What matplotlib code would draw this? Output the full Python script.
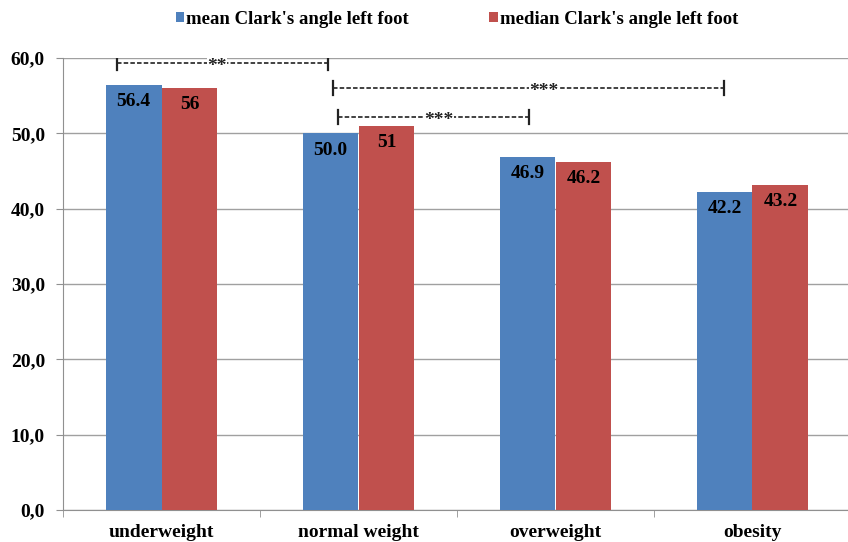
import matplotlib
matplotlib.use('Agg')
import matplotlib.pyplot as plt
import numpy as np

# Data
categories = ['underweight', 'normal weight', 'overweight', 'obesity']
mean_angle = [56.4, 50.0, 46.9, 42.2]
median_angle = [56, 51, 46.2, 43.2]
mean_labels = ['56.4', '50.0', '46.9', '42.2']
median_labels = ['56', '51', '46.2', '43.2']
series_names = ["mean Clark's angle left foot", "median Clark's angle left foot"]

# Significance brackets: (x start, x end, y, stars, star x)
brackets = [(-0.226, 0.845, 59.4, '**', 0.28),
            (0.87, 2.855, 56.0, '***', 1.94),
            (0.896, 1.865, 52.2, '***', 1.41)]

blue = '#4F81BD'
red = '#C0504D'
plt.rcParams['font.family'] = ['Liberation Serif', 'DejaVu Serif']
plt.rcParams['font.weight'] = 'bold'

fig = plt.figure(figsize=(8.48, 5.42), dpi=100)
ax = fig.add_axes([63 / 848, 32 / 542, 788 / 848, 452 / 542])

x = np.arange(len(categories))
w = 0.284
b1 = ax.bar(x - w / 2, mean_angle, w, color=blue, linewidth=0, label=series_names[0], zorder=3)
b2 = ax.bar(x + w / 2, median_angle, w, color=red, linewidth=0, label=series_names[1], zorder=3)

# Value labels inside the top of the bars
for bars, labels in [(b1, mean_labels), (b2, median_labels)]:
    for rect, lab in zip(bars, labels):
        ax.annotate(lab, (rect.get_x() + rect.get_width() / 2, rect.get_height()),
                    xytext=(0, -6), textcoords='offset points', ha='center', va='top',
                    fontsize=14, fontweight='bold', color='black', zorder=5)

# Axes settings
ax.set_xlim(-0.5, 3.5)
ax.set_ylim(0, 60)
ax.set_yticks(np.arange(0, 61, 10))
ax.set_yticklabels([f'{v:.1f}'.replace('.', ',') for v in np.arange(0, 61, 10)],
                   fontsize=14, fontweight='bold')
ax.yaxis.grid(True, color='#a0a0a0', linewidth=1, zorder=0)
ax.set_axisbelow(True)
ax.set_xticks(x)
ax.set_xticklabels(categories, fontsize=14, fontweight='bold')
ax.tick_params(axis='x', length=0, pad=10)
ax.set_xticks(np.arange(-0.5, 4, 1), minor=True)
ax.tick_params(axis='x', which='minor', length=5, color='#909090')
ax.tick_params(axis='y', length=5, color='#909090', pad=8)

for s in ['top', 'right']:
    ax.spines[s].set_visible(False)
ax.spines['left'].set_color('#909090')
ax.spines['bottom'].set_color('#909090')

# Significance brackets
for x0, x1, y, stars, xs in brackets:
    ax.plot([x0, x1], [y, y], color='#333333', linewidth=1.3, dashes=(2.5, 1.2), zorder=4)
    ax.plot([x0, x0], [y - 0.95, y + 0.95], color='#222222', linewidth=1.6, zorder=4)
    ax.plot([x1, x1], [y - 0.95, y + 0.95], color='#222222', linewidth=1.6, zorder=4)
    ax.text(xs, y - 0.5, stars, ha='center', va='center', fontsize=14, fontweight='bold',
            color='#222222', zorder=5,
            bbox=dict(facecolor='white', edgecolor='none', pad=0.2))

# Legend
fig.legend(handles=[b1, b2], loc='center', bbox_to_anchor=(457 / 848, 1 - 19 / 542), ncol=2,
           frameon=False, handlelength=0.45, handleheight=0.45,
           handletextpad=0.1, columnspacing=4.3, prop={'weight': 'bold', 'size': 13.5})

fig.savefig('out.png', dpi=100)
